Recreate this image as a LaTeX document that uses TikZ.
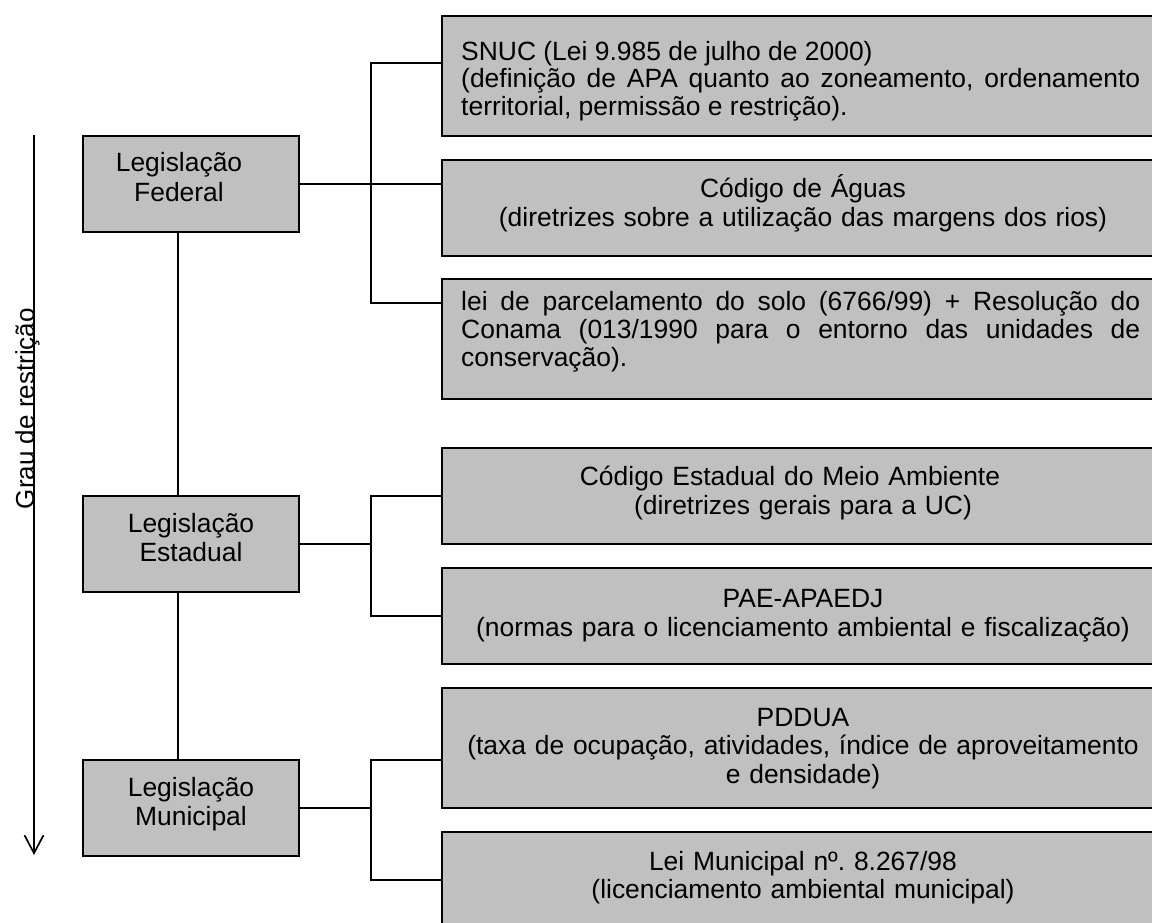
\documentclass[tikz,border=0pt]{standalone}
\usepackage{fontspec}
\setmainfont{Liberation Sans}
\usetikzlibrary{arrows.meta}
\frenchspacing

\definecolor{boxgray}{RGB}{192,192,192}

\tikzset{
    lawbox/.style={draw=black, fill=boxgray, line width=1.5pt, minimum width=5.4cm, minimum height=2.4cm, inner sep=0pt},
    normbox/.style={lawbox, minimum width=18.05cm},
    lawtext/.style={font={\fontsize{18.8pt}{21.3pt}\selectfont}, inner sep=0pt, text width=5cm, align=center, anchor=base},
    normtext/.style={font={\fontsize{18.8pt}{20.6pt}\selectfont}, inner sep=0pt, text width=17.6cm, align=center, anchor=base},
    justtext/.style={font={\fontsize{18.8pt}{19.7pt}\selectfont\hyphenpenalty10000\tolerance9999\relax}, inner sep=0pt, text width=16.975cm, align=justify, anchor=base west},
    link/.style={line width=1.2pt},
    grau/.style={line width=1.2pt, -{Straight Barb[length=0.45cm, width=0.475cm]}}
}

\begin{document}
\begin{tikzpicture}

    \useasboundingbox (0,0) rectangle (28.8,-23.075);
    \clip (0,0) rectangle (28.8,-23.075);

    % grau de restricao
    \coordinate (gtop) at (0.85,-3.375);
    \coordinate (gbot) at (0.85,-21.375);
    \draw[grau] (gtop) -- node[pos=0.38, rotate=90, anchor=base, inner sep=0pt, font={\fontsize{18.5pt}{20pt}\selectfont}] (grautxt) {Grau de restrição} (gbot);

    % legislation levels
    \node[lawbox] (fed) at (4.775,-4.6) {};
    \node[lawbox] (est) at (4.775,-13.6) {};
    \node[lawbox] (mun) at (4.775,-20.2) {};

    \node[lawtext] (fedtxt) at ([xshift=-0.3cm, yshift=0.3cm]fed.center) {Legislação\\Federal};
    \node[lawtext] (esttxt) at ([yshift=0.3cm]est.center) {Legislação\\Estadual};
    \node[lawtext] (muntxt) at ([yshift=0.3cm]mun.center) {Legislação\\Municipal};

    % federal norms
    \node[normbox, minimum height=3cm] (snuc) at (20.075,-1.9) {};
    \node[normbox] (aguas) at (20.075,-5.2) {};
    \node[normbox, minimum height=3cm] (lei) at (20.075,-8.475) {};

    \node[justtext] (snuctxt) at ([xshift=0.5cm, yshift=-1.13cm]snuc.north west) {SNUC (Lei 9.985 de julho de 2000)\\(definição de APA quanto ao zoneamento, ordenamento territorial, permissão e restrição).};
    \node[normtext] (aguastxt) at ([yshift=0.27cm]aguas.center) {Código de Águas\\(diretrizes sobre a utilização das margens dos rios)};
    \node[justtext] (leitxt) at ([xshift=0.5cm, yshift=-0.82cm]lei.north west) {lei de parcelamento do solo (6766/99) + Resolução do Conama (013/1990 para o entorno das unidades de conservação).};

    % state norms
    \node[normbox] (ce) at (20.075,-12.4) {};
    \node[normbox] (pae) at (20.075,-15.4) {};

    \node[normtext] (cetxt) at ([xshift=-0.325cm, yshift=0.25cm]ce.center) {Código Estadual do Meio Ambiente\\\hspace*{0.65cm}(diretrizes gerais para a UC)};
    \node[normtext] (paetxt) at ([yshift=0.22cm]pae.center) {PAE-APAEDJ\\(normas para o licenciamento ambiental e fiscalização)};

    % municipal norms
    \node[normbox, minimum height=3cm] (pddua) at (20.075,-18.7) {};
    \node[normbox] (lm) at (20.075,-22.0) {};

    \node[normtext] (pdduatxt) at ([yshift=0.55cm]pddua.center) {PDDUA\\(taxa de ocupação, atividades, índice de aproveitamento\\e densidade)};
    \node[normtext] (lmtxt) at ([yshift=0.25cm]lm.center) {Lei Municipal nº. 8.267/98\\(licenciamento ambiental municipal)};

    % hierarchy
    \draw[link] ([xshift=-0.325cm]fed.south) -- ([xshift=-0.325cm]est.north);
    \draw[link] ([xshift=-0.325cm]est.south) -- ([xshift=-0.325cm]mun.north);

    % brackets
    \coordinate (brk) at (9.275,0);
    \coordinate (snucin) at ([yshift=-1.2cm]snuc.north west);
    \coordinate (leiin) at ([yshift=-0.625cm]lei.north west);
    \coordinate (pdduain) at ([yshift=-0.3cm]pddua.west);

    \draw[link] (fed.east) -- (fed.east -| aguas.west);
    \draw[link] (snucin) -- (snucin -| brk) |- (leiin);

    \draw[link] (est.east) -- (est.east -| brk);
    \draw[link] (ce.west) -- (ce.west -| brk) |- (pae.west);

    \draw[link] (mun.east) -- (mun.east -| brk);
    \draw[link] (pdduain) -- (pdduain -| brk) |- (lm.west);

\end{tikzpicture}
\end{document}
